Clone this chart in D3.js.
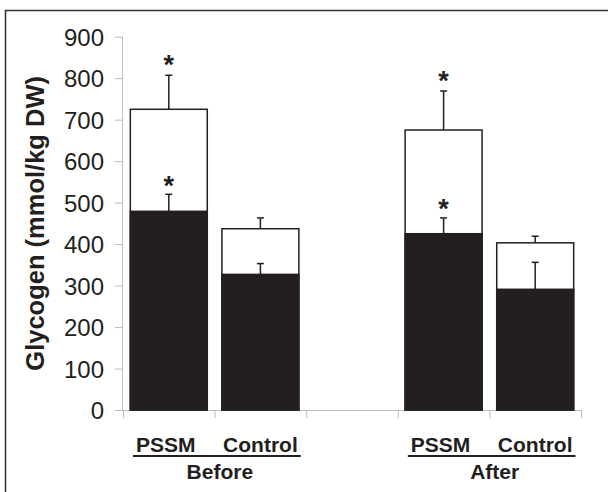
<!DOCTYPE html>
<html>
<head>
<meta charset="utf-8">
<script src="https://cdn.jsdelivr.net/npm/d3@7"></script>
<style>
  body { margin: 0; background: #fff; }
  text { font-family: "Liberation Sans", Arial, sans-serif; fill: #231f20; }
</style>
</head>
<body>
<div id="chart"></div>
<script>
/* Glycogen before / after, PSSM vs Control */

const slots = ["PSSM|Before", "Control|Before", "gap", "PSSM|After", "Control|After"];
const groupNames = ["PSSM", "Control", "", "PSSM", "Control"];
const periods = ["Before", "After"];
const totalMean = [725, 437, null, 675, 403];
const totalErr = [82, 26, null, 94, 16];
const blackMean = [479, 327, null, 425, 291];
const blackErr = [41, 26, null, 38, 65];
const totalStar = [true, false, false, true, false];
const blackStar = [true, false, false, true, false];
const yTicks = [0, 100, 200, 300, 400, 500, 600, 700, 800, 900];

const width = 608, height = 492;
const ink = "#231f20", axisGray = "#bdbdbd";

const svg = d3.select("#chart").append("svg")
    .attr("width", width)
    .attr("height", height);

// outer frame (runs off the right and bottom edges)
svg.append("rect")
    .attr("x", 5.5).attr("y", 10.5)
    .attr("width", 700).attr("height", 600)
    .attr("fill", "none")
    .attr("stroke", "#333")
    .attr("stroke-width", 1.5);

const x = d3.scaleBand()
    .domain(slots)
    .range([123, 581])
    .padding(0);

const y = d3.scaleLinear()
    .domain([0, 900])
    .range([410, 36.7]);

// y axis
const yAxis = svg.append("g")
    .attr("transform", "translate(123,0)")
    .call(d3.axisLeft(y).tickValues(yTicks).tickSize(8).tickPadding(11));
yAxis.select(".domain").attr("stroke", axisGray).attr("d", `M-0.5,${y(900)}V${y(0)}`);
yAxis.selectAll(".tick line").attr("stroke", axisGray);
yAxis.selectAll(".tick text")
    .style("font-size", "24px")
    .style("font-family", "'Liberation Sans', Arial, sans-serif")
    .attr("fill", ink)
    .attr("dy", "0.36em");

// x axis: tick marks at the band boundaries
const xb = svg.append("g");
xb.append("line")
    .attr("x1", 115).attr("x2", x.range()[1])
    .attr("y1", y(0) + 0.5).attr("y2", y(0) + 0.5)
    .attr("stroke", axisGray);
const bounds = slots.map(s => x(s)).concat([x.range()[1]]);
xb.selectAll(".xt")
    .data(bounds)
    .join("line")
    .attr("x1", d => d + 0.5).attr("x2", d => d + 0.5)
    .attr("y1", y(0)).attr("y2", y(0) + 8)
    .attr("stroke", axisGray);

const data = slots.map((s, i) => ({
    key: s, total: totalMean[i], tErr: totalErr[i], black: blackMean[i], bErr: blackErr[i],
    tStar: totalStar[i], bStar: blackStar[i]
})).filter(d => d.total != null);

const inset = x.bandwidth() * 0.08;
const bw = x.bandwidth() - 2 * inset;

const bar = svg.selectAll(".bar")
    .data(data)
    .join("g")
    .attr("class", "bar");

// white = total, black = lower part
bar.append("rect")
    .attr("x", d => x(d.key) + inset)
    .attr("y", d => y(d.total))
    .attr("width", bw)
    .attr("height", d => y(0) - y(d.total))
    .attr("fill", "#fff")
    .attr("stroke", ink)
    .attr("stroke-width", 1.5);

bar.append("rect")
    .attr("x", d => x(d.key) + inset)
    .attr("y", d => y(d.black))
    .attr("width", bw)
    .attr("height", d => y(0) - y(d.black))
    .attr("fill", ink)
    .attr("stroke", ink)
    .attr("stroke-width", 1.5);

// error bars (upper only)
function errBar(g, val, err) {
    const cx = d => x(d.key) + x.bandwidth() / 2;
    g.append("line")
        .attr("x1", cx).attr("x2", cx)
        .attr("y1", d => y(val(d))).attr("y2", d => y(val(d) + err(d)))
        .attr("stroke", ink).attr("stroke-width", 1.5);
    g.append("line")
        .attr("x1", d => cx(d) - 3.5).attr("x2", d => cx(d) + 3.5)
        .attr("y1", d => y(val(d) + err(d))).attr("y2", d => y(val(d) + err(d)))
        .attr("stroke", ink).attr("stroke-width", 1.5);
}
errBar(bar, d => d.total, d => d.tErr);
errBar(bar, d => d.black, d => d.bErr);

// significance stars
bar.filter(d => d.tStar).append("text")
    .attr("x", d => x(d.key) + x.bandwidth() / 2)
    .attr("y", d => y(d.total + d.tErr) - 1)
    .attr("text-anchor", "middle")
    .style("font-size", "27px").style("font-weight", "bold")
    .text("*");
bar.filter(d => d.bStar).append("text")
    .attr("x", d => x(d.key) + x.bandwidth() / 2)
    .attr("y", d => y(d.black + d.bErr) + 0.5)
    .attr("text-anchor", "middle")
    .style("font-size", "27px").style("font-weight", "bold")
    .text("*");

// category labels
svg.selectAll(".cat")
    .data(slots.filter((s, i) => groupNames[i] !== ""))
    .join("text")
    .attr("class", "cat")
    .attr("x", d => x(d) + x.bandwidth() / 2 - (d.startsWith("PSSM") ? 3 : 0))
    .attr("y", 452)
    .attr("text-anchor", "middle")
    .style("font-size", "21px").style("font-weight", "bold")
    .text(d => groupNames[slots.indexOf(d)]);

// underline under each pair + period label
periods.forEach(p => {
    const keys = slots.filter(s => s.endsWith("|" + p));
    const labels = svg.selectAll(".cat").filter(d => keys.includes(d)).nodes();
    const boxes = labels.map(n => n.getBBox());
    const x0 = d3.min(boxes, b => b.x) - 3;
    const x1 = d3.max(boxes, b => b.x + b.width) + 3;
    svg.append("line")
        .attr("x1", x0).attr("x2", x1)
        .attr("y1", 456).attr("y2", 456)
        .attr("stroke", ink).attr("stroke-width", 2);
    svg.append("text")
        .attr("x", (x0 + x1) / 2 + 3)
        .attr("y", 478.5)
        .attr("text-anchor", "middle")
        .style("font-size", "21px").style("font-weight", "bold")
        .text(p);
});

// y axis title
svg.append("text")
    .attr("transform", `translate(44,${(y(0) + y(900)) / 2}) rotate(-90)`)
    .attr("text-anchor", "middle")
    .style("font-size", "25.5px").style("font-weight", "bold")
    .text("Glycogen (mmol/kg DW)");
</script>
</body>
</html>
